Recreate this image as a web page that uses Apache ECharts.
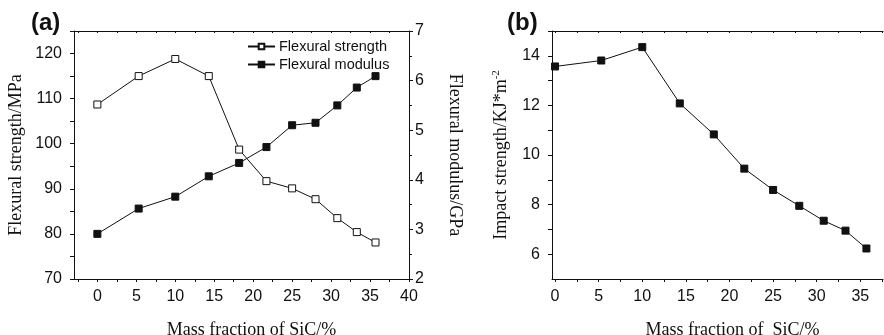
<!DOCTYPE html>
<html>
<head>
<meta charset="utf-8">
<script src="https://cdn.jsdelivr.net/npm/echarts@6/dist/echarts.min.js"></script>
<style>
  html, body { margin: 0; padding: 0; background: #fff; }
  #chart { width: 884px; height: 335px; }
</style>
</head>
<body>
<div id="chart"></div>
<script>
// mass fraction of SiC (%)
var sic = [0, 5.3, 10, 14.3, 18.2, 21.7, 25, 28, 30.8, 33.3, 35.7];

// (a) flexural strength (MPa) and modulus (GPa)
var flexStrength = [108.7, 115.0, 118.8, 115.0, 98.7, 91.7, 90.1, 87.7, 83.5, 80.4, 78.1];
var flexModulus = [2.91, 3.42, 3.66, 4.07, 4.34, 4.66, 5.10, 5.15, 5.50, 5.86, 6.09];

// (b) impact strength (KJ*m^-2)
var impact = [13.57, 13.81, 14.35, 12.08, 10.83, 9.45, 8.59, 7.95, 7.35, 6.95, 6.23];

// tick labels
var xLabelsA = [0, 5, 10, 15, 20, 25, 30, 35, 40];
var xTicksA = [-2.5, 0, 2.5, 5, 7.5, 10, 12.5, 15, 17.5, 20, 22.5, 25, 27.5, 30, 32.5, 35, 37.5, 40];
var yLabelsA = [70, 80, 90, 100, 110, 120];
var yTicksA = [70, 75, 80, 85, 90, 95, 100, 105, 110, 115, 120, 125];
var xLabelsB = [0, 5, 10, 15, 20, 25, 30, 35];
var xTicksB = [0, 2.5, 5, 7.5, 10, 12.5, 15, 17.5, 20, 22.5, 25, 27.5, 30, 32.5, 35, 37.5];
var yLabelsB = [6, 8, 10, 12, 14];
var yTicksB = [6, 7, 8, 9, 10, 11, 12, 13, 14, 15];

function pairs(xs, ys) {
	return xs.map(function (x, i) { return [x, ys[i]]; });
}

var ink = '#111';
var sans = 'Liberation Sans';
var serif = 'Liberation Serif';

var axLine = { show: true, onZero: false, lineStyle: { color: ink, width: 1 } };
var lbl = { color: ink, fontFamily: sans, fontSize: 16 };
var nameStyle = { fontFamily: serif, fontSize: 18, color: ink };

var myChart = echarts.init(document.getElementById('chart'));

var option = {
	animation: false,
	title: [
		{ text: '(a)', left: 31, top: 11, padding: 0,
		  textStyle: { fontFamily: sans, fontWeight: 'bold', fontSize: 24, color: ink } },
		{ text: '(b)', left: 507, top: 11, padding: 0,
		  textStyle: { fontFamily: sans, fontWeight: 'bold', fontSize: 24, color: ink } }
	],
	legend: {
		orient: 'vertical',
		left: 247,
		top: 39,
		itemWidth: 27,
		itemHeight: 7,
		itemGap: 3,
		padding: 0,
		data: ['Flexural strength', 'Flexural modulus'],
		textStyle: { fontFamily: sans, fontSize: 14.5, color: ink, lineHeight: 15, padding: [0, 0, 0, -1] }
	},
	grid: [
		{ left: 74, top: 31, right: 475, bottom: 56, outerBoundsMode: 'none' },
		{ left: 552, top: 31, right: 1, bottom: 56, outerBoundsMode: 'none' }
	],
	xAxis: [
		{
			gridIndex: 0, type: 'value', min: -3, max: 40, position: 'bottom',
			name: 'Mass fraction of SiC/%', nameLocation: 'middle', nameGap: 42,
			nameTextStyle: Object.assign({ padding: [0, 0, 0, 20] }, nameStyle),
			axisLine: axLine,
			axisTick: { show: true, length: 3, lineStyle: { color: ink }, customValues: xTicksA },
			axisLabel: Object.assign({ margin: 10, customValues: xLabelsA }, lbl),
			splitLine: { show: false }
		},
		{
			gridIndex: 0, type: 'value', min: -3, max: 40, position: 'top',
			axisLine: axLine,
			axisTick: { show: true, inside: true, length: 2, lineStyle: { color: ink }, customValues: xTicksA },
			axisLabel: { show: false },
			splitLine: { show: false }
		},
		{
			gridIndex: 1, type: 'value', min: -0.35, max: 37.6, position: 'bottom',
			name: 'Mass fraction of  SiC/%', nameLocation: 'middle', nameGap: 42,
			nameTextStyle: Object.assign({ padding: [0, 0, 0, 30] }, nameStyle),
			axisLine: axLine,
			axisTick: { show: true, length: 3, lineStyle: { color: ink }, customValues: xTicksB },
			axisLabel: Object.assign({ margin: 10, customValues: xLabelsB }, lbl),
			splitLine: { show: false }
		},
		{
			gridIndex: 1, type: 'value', min: -0.35, max: 37.6, position: 'top',
			axisLine: axLine,
			axisTick: { show: true, inside: true, length: 2, lineStyle: { color: ink }, customValues: xTicksB },
			axisLabel: { show: false },
			splitLine: { show: false }
		}
	],
	yAxis: [
		{
			gridIndex: 0, type: 'value', min: 70, max: 125, position: 'left',
			name: 'Flexural strength/MPa', nameLocation: 'middle', nameGap: 49,
			nameTextStyle: nameStyle,
			axisLine: axLine,
			axisTick: { show: true, length: 4, lineStyle: { color: ink }, customValues: yTicksA },
			axisLabel: Object.assign({ margin: 12, customValues: yLabelsA }, lbl),
			splitLine: { show: false }
		},
		{
			gridIndex: 0, type: 'value', min: 2, max: 7, interval: 1, position: 'right',
			name: 'Flexural modulus/GPa', nameLocation: 'middle', nameGap: 37, nameRotate: -90,
			nameTextStyle: nameStyle,
			axisLine: axLine,
			axisTick: { show: true, length: 4, lineStyle: { color: ink } },
			minorTick: { show: true, splitNumber: 2, length: 3, lineStyle: { color: ink } },
			axisLabel: Object.assign({ margin: 6 }, lbl),
			splitLine: { show: false }
		},
		{
			gridIndex: 1, type: 'value', min: 5, max: 15, position: 'left',
			name: 'Impact strength/KJ*m{sup|-2}', nameLocation: 'middle', nameGap: 41,
			nameTextStyle: Object.assign({
				rich: { sup: { fontFamily: serif, fontSize: 11, color: ink, verticalAlign: 'top', padding: [0, 0, 9, 0] } }
			}, nameStyle),
			axisLine: axLine,
			axisTick: { show: true, length: 4, lineStyle: { color: ink }, customValues: yTicksB },
			axisLabel: Object.assign({ margin: 12, customValues: yLabelsB }, lbl),
			splitLine: { show: false }
		}
	],
	series: [
		{
			name: 'Flexural strength', type: 'line', xAxisIndex: 0, yAxisIndex: 0,
			data: pairs(sic, flexStrength),
			symbol: 'rect', symbolSize: 7,
			lineStyle: { color: ink, width: 1 },
			itemStyle: { color: '#fff', borderColor: ink, borderWidth: 1 }
		},
		{
			name: 'Flexural modulus', type: 'line', xAxisIndex: 0, yAxisIndex: 1,
			data: pairs(sic, flexModulus),
			symbol: 'rect', symbolSize: 7,
			lineStyle: { color: ink, width: 1 },
			itemStyle: { color: ink, borderColor: ink, borderWidth: 1 }
		},
		{
			name: 'Impact strength', type: 'line', xAxisIndex: 2, yAxisIndex: 2,
			data: pairs(sic, impact),
			symbol: 'rect', symbolSize: 7,
			lineStyle: { color: ink, width: 1 },
			itemStyle: { color: ink, borderColor: ink, borderWidth: 1 }
		}
	]
};

myChart.setOption(option);
</script>
</body>
</html>
